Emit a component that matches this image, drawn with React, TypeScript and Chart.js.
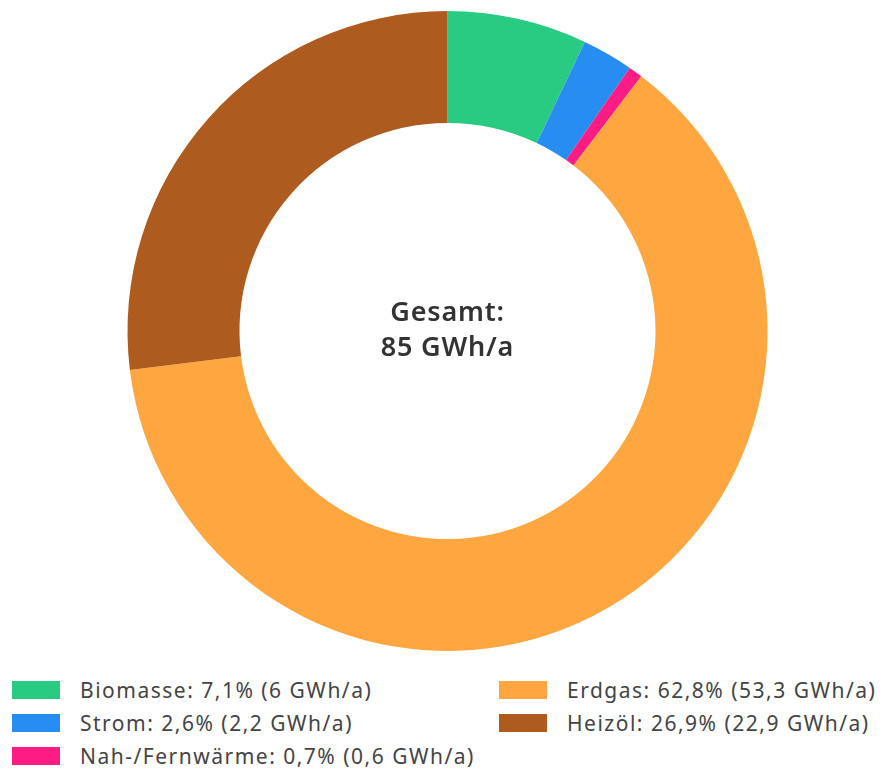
import React, { useEffect, useRef } from "react";
import { Chart, registerables } from "chart.js";

Chart.register(...registerables);

const categories = ["Biomasse", "Strom", "Nah-/Fernwärme", "Erdgas", "Heizöl"];
const valuesGWh = [6, 2.2, 0.6, 53.3, 22.9];
const percentLabels = ["7,1", "2,6", "0,7", "62,8", "26,9"];
const colors = ["#29CB82", "#288DF1", "#FC1C84", "#FEA63F", "#AE5B20"];
const centerLines = ["Gesamt:", "85 GWh/a"];

const FONT = "'Noto Sans', sans-serif";

const fmt = (v: number) => v.toLocaleString("de-DE");

const centerTextPlugin = {
  id: "centerText",
  afterDraw(chart: any) {
    const meta = chart.getDatasetMeta(0);
    const arc = meta.data[0];
    if (!arc) return;
    const { x, y } = arc;
    const ctx = chart.ctx;
    ctx.save();
    ctx.fillStyle = "#333333";
    ctx.font = `600 27px ${FONT}`;
    try {
      (ctx as any).letterSpacing = "0.8px";
    } catch (e) {}
    ctx.textAlign = "center";
    ctx.textBaseline = "alphabetic";
    ctx.fillText(centerLines[0], x, y - 10);
    ctx.fillText(centerLines[1], x, y + 25);
    ctx.restore();
  },
};

export default function App() {
  const ref = useRef<HTMLCanvasElement | null>(null);
  useEffect(() => {
    if (!ref.current) return;
    const chart = new Chart(ref.current, {
      type: "doughnut",
      data: {
        labels: categories,
        datasets: [
          {
            data: valuesGWh,
            backgroundColor: colors,
            borderWidth: 0,
            hoverOffset: 0,
          },
        ],
      },
      options: {
        animation: false,
        responsive: false,
        maintainAspectRatio: false,
        cutout: "65%",
        layout: { padding: { top: 11, bottom: 13, left: 5, right: 0 } },
        plugins: {
          legend: { display: false },
          tooltip: { enabled: false },
        },
      },
      plugins: [centerTextPlugin],
    });
    return () => chart.destroy();
  }, []);

  return (
    <div style={{ position: "absolute", left: 0, top: 0, width: 890, height: 774, background: "#fff" }}>
      <canvas ref={ref} width={890} height={664} style={{ position: "absolute", left: 0, top: 0 }} />
      {categories.map((c, i) => {
        const col = i < 3 ? 0 : 1;
        const row = i < 3 ? i : i - 3;
        const left = col === 0 ? 12 : 499;
        const cy = 690 + 33 * row;
        return (
          <div key={c}>
            <div
              style={{
                position: "absolute",
                left,
                top: cy - 9,
                width: 48,
                height: 18,
                background: colors[i],
              }}
            />
            <div
              style={{
                position: "absolute",
                left: left + 68,
                top: cy - 14,
                height: 28,
                lineHeight: "28px",
                fontFamily: FONT,
                fontSize: 21,
                letterSpacing: "1.5px",
                color: "#444444",
                whiteSpace: "nowrap",
              }}
            >
              {`${c}: ${percentLabels[i]}% (${fmt(valuesGWh[i])} GWh/a)`}
            </div>
          </div>
        );
      })}
    </div>
  );
}
